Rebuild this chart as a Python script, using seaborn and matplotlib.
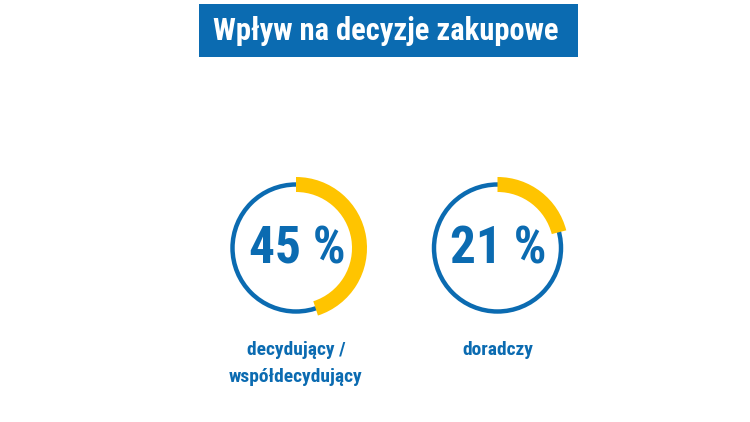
import matplotlib
matplotlib.use("Agg")
import matplotlib.pyplot as plt
from matplotlib import font_manager as fm
from matplotlib.patches import Circle, Wedge, Rectangle
import seaborn as sns

title = "Wpływ na decyzje zakupowe"
categories = ["decydujący /\nwspółdecydujący", "doradczy"]
values = [45, 21]

BLUE = "#0b6bb1"
YELLOW = "#ffc400"

sns.set_theme(style="white")

# find a condensed bold font file if available
cond = [f for f in fm.fontManager.ttflist
        if ('condensed' in f.fname.lower() or 'narrow' in f.fname.lower())
        and ('bold' in f.fname.lower()) and 'italic' not in f.fname.lower()]
pref = ['Roboto Condensed', 'Liberation Sans Narrow', 'Open Sans Condensed', 'Noto Sans', 'DejaVu Sans']
chosen = None
for p in pref:
    for f in cond:
        if f.name.startswith(p):
            chosen = f.fname
            break
    if chosen:
        break
if chosen:
    def FP(size):
        return fm.FontProperties(fname=chosen, size=size)
else:
    def FP(size):
        return fm.FontProperties(family='DejaVu Sans', weight='bold', size=size)

W, H = 750, 422
fig = plt.figure(figsize=(7.5, 4.22), dpi=100)
ax = fig.add_axes([0, 0, 1, 1])
ax.set_xlim(0, W)
ax.set_ylim(H, 0)
ax.set_aspect('equal')
ax.axis('off')

ax.add_patch(Rectangle((199, 4), 379, 53, facecolor=BLUE, edgecolor='none'))
ax.text(386, 31, title, color='white', fontproperties=FP(22),
        ha='center', va='center')

centers_x = [296, 497.5]
cy = 248
r = 63.5
for cx, v, lab in zip(centers_x, values, categories):
    ax.add_patch(Circle((cx, cy), r, fill=False, edgecolor=BLUE, linewidth=3.2))
    ax.add_patch(Wedge((cx, cy), r + 7.5, -90, -90 + 360 * v / 100, width=15,
                       facecolor=YELLOW, edgecolor='none'))
    ax.text(cx + 1, cy + 2, f"{v} %", color=BLUE, fontproperties=FP(37),
            ha='center', va='center')
    ax.text(cx, 341, lab, color=BLUE, fontproperties=FP(14),
            ha='center', va='top', linespacing=1.65)

fig.savefig("out.png", dpi=100)
